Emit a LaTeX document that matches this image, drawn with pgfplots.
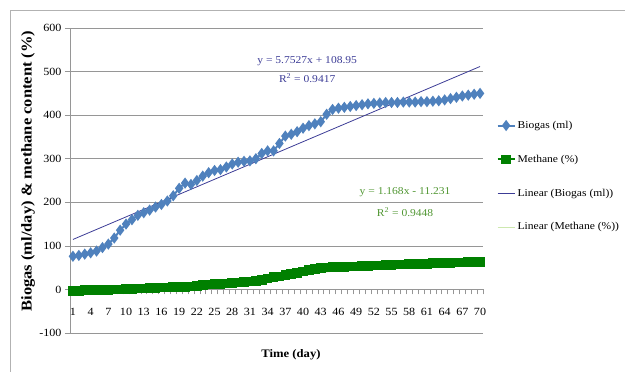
\documentclass[border=0pt]{standalone}
\usepackage{fontspec}
\setmainfont{Liberation Serif}[FakeStretch=1.1]
\usepackage{pgfplots}
\usepackage{pgfplotstable}
\pgfplotsset{compat=1.18}
\definecolor{bio}{RGB}{79,129,189}
\definecolor{biotrend}{RGB}{60,60,150}
\definecolor{meth}{RGB}{0,128,0}
\definecolor{methtrend}{RGB}{205,232,175}
\definecolor{methtext}{RGB}{80,150,50}
\definecolor{gridc}{RGB}{150,150,150}

\pgfplotstableread{
day biogas methane
1 76 -3
2 78 -3
3 81 -2
4 84 -2
5 88 -2
6 96 -1
7 104 -1
8 118 0
9 136 0
10 150 1
11 160 1
12 170 2
13 176 2
14 182 3
15 189 3
16 195 4
17 203 4
18 215 5
19 232 5
20 244 6
21 241 7
22 250 8
23 260 10
24 268 11
25 273 12
26 275 13
27 281 14
28 288 15
29 292 16
30 294 17
31 295 18
32 300 20
33 312 22
34 318 25
35 318 28
36 335 30
37 352 33
38 356 35
39 362 38
40 370 41
41 376 44
42 380 47
43 385 49
44 402 50
45 413 51
46 416 52
47 418 52
48 420 53
49 422 53
50 424 54
51 426 54
52 427 55
53 428 55
54 429 56
55 429 56
56 429 57
57 430 57
58 430 58
59 430 58
60 431 59
61 431 59
62 432 60
63 433 60
64 435 61
65 438 61
66 441 62
67 444 62
68 446 63
69 448 63
70 450 63
}\datatable

\begin{document}
\begin{tikzpicture}
\path[use as bounding box] (0pt,0pt) rectangle (625pt,372pt);
\draw[gray!60, line width=0.8pt] (10pt,0pt) -- (10pt,362pt) -- (625pt,362pt);
\begin{axis}[
  at={(70pt,39pt)}, anchor=south west,
  scale only axis, width=413pt, height=305pt,
  xmin=0.5, xmax=70.5, ymin=-100, ymax=600,
  axis x line*=middle, axis y line*=left,
  axis line style={gridc, line width=0.6pt},
  ytick={-100,0,100,200,300,400,500,600},
  yticklabels={-100,0,100,200,300,400,500,600},
  ymajorgrids, grid style={gridc, line width=0.6pt},
  ytick style={gridc, line width=0.6pt},
  major tick length=5pt, tick align=outside,
  xtick={0.5,1.5,...,70.5}, xticklabels={},
  x tick style={gridc, line width=0.5pt},
  extra x ticks={1,4,...,70},
  extra x tick labels={1,4,7,10,13,16,19,22,25,28,31,34,37,40,43,46,49,52,55,58,61,64,67,70},
  extra x tick style={major tick length=0pt, xticklabel style={yshift=-15pt}},
  ticklabel style={font=\fontsize{11}{12}\selectfont, text=black},
  legend style={at={(1.03,0.705)}, anchor=north west, draw=none, fill=none,
    font=\fontsize{10.5}{12}\selectfont, row sep=21pt, inner sep=1pt},
  legend cell align=left,
  clip=false,
]
\addplot[bio, line width=2pt, mark=diamond*, mark size=4pt, mark options={fill=bio, draw=bio}] table[x=day, y=biogas] {\datatable};
\addlegendentry{Biogas (ml)}
\addplot[meth, line width=2pt, mark=square*, mark size=3.8pt, mark options={fill=meth, draw=meth}] table[x=day, y=methane] {\datatable};
\addlegendentry{Methane (\%)}
\addplot[biotrend, line width=0.8pt] coordinates {(1,114.70) (70,511.64)};
\addlegendentry{Linear (Biogas (ml))}
\addplot[methtrend, line width=0.8pt] coordinates {(1,-10.063) (70,70.529)};
\addlegendentry{Linear (Methane (\%))}
\node[biotrend, font=\fontsize{10.5}{12}\selectfont] at (axis cs:40.7,523) {y = 5.7527x + 108.95};
\node[biotrend, font=\fontsize{10.5}{12}\selectfont] at (axis cs:40.7,484) {R\textsuperscript{2} = 0.9417};
\node[methtext, font=\fontsize{10.5}{12}\selectfont] at (axis cs:57.3,222.6) {y = 1.168x - 11.231};
\node[methtext, font=\fontsize{10.5}{12}\selectfont] at (axis cs:57.3,176.7) {R\textsuperscript{2} = 0.9448};
\end{axis}
\node[rotate=90, font=\fontsize{15}{17}\selectfont\bfseries] at (28pt,201pt) {Biogas (ml/day) \& methane content (\%)};
\node[font=\fontsize{11.5}{13}\selectfont\bfseries] at (291pt,17pt) {Time (day)};
\end{tikzpicture}
\end{document}
